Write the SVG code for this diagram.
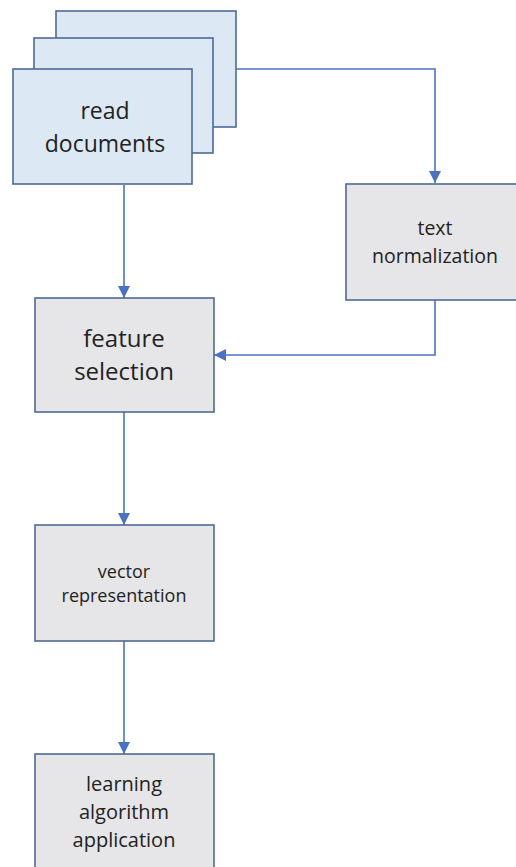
<svg xmlns="http://www.w3.org/2000/svg" width="516" height="867" viewBox="0 0 516 867">
  <style>
    .doc { fill: #dde8f5; stroke: #4e6a96; stroke-width: 1.6; }
    .step { fill: #e6e6e8; stroke: #4e6a96; stroke-width: 1.6; }
    .lbl { font-family: "Open Sans", "Liberation Sans", sans-serif; fill: #222; text-anchor: middle; }
    .wire { fill: none; stroke: #4a72c0; stroke-width: 1.6; }
  </style>
  <defs>
    <marker id="head" viewBox="0 0 10 10" refX="10" refY="5" markerWidth="12" markerHeight="12" markerUnits="userSpaceOnUse" orient="auto">
      <path d="M0,0 L10,5 L0,10 z" fill="#4a72c0"/>
    </marker>
  </defs>
  <rect width="516" height="867" fill="#ffffff"/>

  <g id="connectors">
    <path class="wire" d="M236,69 H435 V183" marker-end="url(#head)"/>
    <path class="wire" d="M124,185 V298" marker-end="url(#head)"/>
    <path class="wire" d="M435,300 V355 H214" marker-end="url(#head)"/>
    <path class="wire" d="M124,412 V525" marker-end="url(#head)"/>
    <path class="wire" d="M124,641 V754" marker-end="url(#head)"/>
  </g>

  <g id="read-documents">
    <rect class="doc" x="56" y="11" width="180" height="116"/>
    <rect class="doc" x="34" y="38" width="179" height="115"/>
    <rect class="doc" x="13" y="69" width="179" height="115"/>
    <text class="lbl" x="105" y="119" font-size="23">read</text>
    <text class="lbl" x="105" y="152" font-size="23">documents</text>
  </g>

  <g id="text-normalization">
    <rect class="step" x="346" y="184" width="180" height="116"/>
    <text class="lbl" x="435" y="235" font-size="19.5">text</text>
    <text class="lbl" x="435" y="263" font-size="19.5">normalization</text>
  </g>

  <g id="feature-selection">
    <rect class="step" x="35" y="298" width="179" height="114"/>
    <text class="lbl" x="124" y="347" font-size="24">feature</text>
    <text class="lbl" x="124" y="380" font-size="24">selection</text>
  </g>

  <g id="vector-representation">
    <rect class="step" x="35" y="525" width="179" height="116"/>
    <text class="lbl" x="124" y="578" font-size="18">vector</text>
    <text class="lbl" x="124" y="602" font-size="18">representation</text>
  </g>

  <g id="learning-algorithm-application">
    <rect class="step" x="35" y="754" width="179" height="120"/>
    <text class="lbl" x="124" y="791" font-size="20">learning</text>
    <text class="lbl" x="124" y="819" font-size="20">algorithm</text>
    <text class="lbl" x="124" y="847" font-size="20">application</text>
  </g>
</svg>
